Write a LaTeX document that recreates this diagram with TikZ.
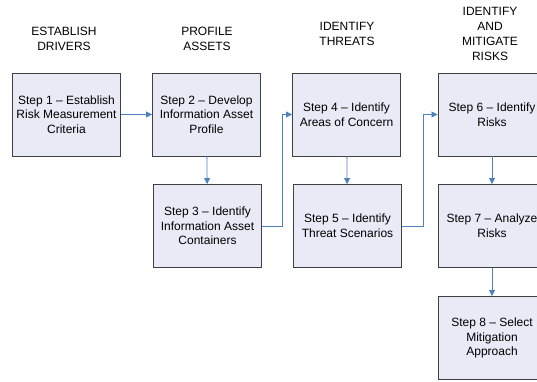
\documentclass[tikz,border=0pt]{standalone}
\usepackage{fontspec}
\setmainfont{Liberation Sans}
\usetikzlibrary{arrows.meta}
\definecolor{boxfill}{HTML}{E8EBF5}
\definecolor{boxline}{HTML}{404040}
\definecolor{arrowblue}{HTML}{4F81BD}
\begin{document}
\begin{tikzpicture}[x=1pt,y=-1pt,
  stepbox/.style={draw=boxline,fill=boxfill,line width=0.9pt,minimum width=108pt,minimum height=83pt,inner sep=0pt,align=center,font=\fontsize{12}{14.7}\selectfont},
  header/.style={anchor=north,inner sep=0pt,align=center,font=\fontsize{12}{15}\selectfont},
  flow/.style={draw=arrowblue,line width=0.8pt,-{Triangle[length=6pt,width=6pt]}}]
\useasboundingbox (0,0) rectangle (537,382);
\clip (0,0) rectangle (537,382);
\node[header] (h1) at (64,27) {ESTABLISH\\DRIVERS};
\node[header] (h2) at (207,27) {PROFILE\\ASSETS};
\node[header] (h3) at (347,22) {IDENTIFY\\THREATS};
\node[header] (h4) at (490,7) {IDENTIFY\\AND\\MITIGATE\\RISKS};
\node[stepbox] (s1) at (66.5,114.5) {Step 1 -- Establish\\Risk Measurement\\Criteria};
\node[stepbox] (s2) at (206.5,114.5) {Step 2 -- Develop\\Information Asset\\Profile};
\node[stepbox] (s3) at (207.5,226) {Step 3 -- Identify\\Information Asset\\Containers};
\node[stepbox] (s4) at (346.5,114.5) {Step 4 -- Identify\\Areas of Concern};
\node[stepbox] (s5) at (347.5,226) {Step 5 -- Identify\\Threat Scenarios};
\node[stepbox] (s6) at (492,114.5) {Step 6 -- Identify\\Risks};
\node[stepbox] (s7) at (492,226) {Step 7 -- Analyze\\Risks};
\node[stepbox] (s8) at (492,338) {Step 8 -- Select\\Mitigation\\Approach};
\draw[flow] (s1) -- (s2);
\draw[flow] (s2) -- (s3);
\draw[flow] (s3.east) -- (282,226) |- (s4.west);
\draw[flow] (s4) -- (s5);
\draw[flow] (s5.east) -- (423,226) |- (s6.west);
\draw[flow] (s6) -- (s7);
\draw[flow] (s7) -- (s8);
\end{tikzpicture}
\end{document}
